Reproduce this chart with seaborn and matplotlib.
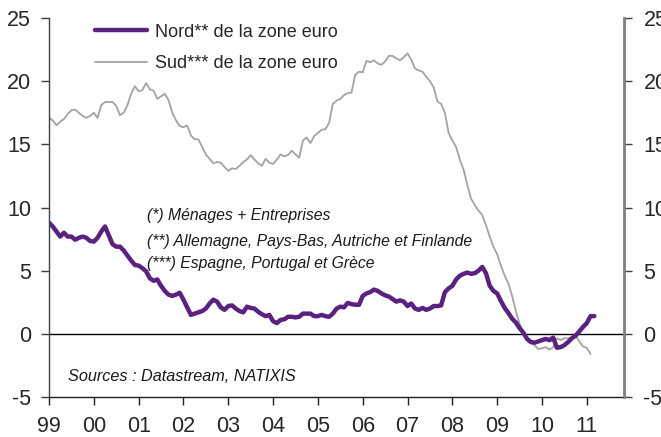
import numpy as np
import pandas as pd
import matplotlib
matplotlib.use("Agg")
import matplotlib.pyplot as plt
import seaborn as sns
from matplotlib.lines import Line2D

# ---- data (monthly, starting Jan 1999) ----
start_year = 1999
nord = [8.8, 8.5, 8.1, 7.7, 8.0, 7.7, 7.7, 7.45, 7.6, 7.7, 7.6, 7.35,
        7.3, 7.6, 8.1, 8.5, 7.8, 7.1, 6.9, 6.9, 6.6, 6.2, 5.8, 5.45,
        5.4, 5.2, 4.95, 4.4, 4.2, 4.3, 3.8, 3.4, 3.1, 3.0, 3.1, 3.25,
        2.7, 2.1, 1.5, 1.6, 1.7, 1.8, 2.0, 2.4, 2.7, 2.55, 2.1, 1.9,
        2.2, 2.25, 2.0, 1.8, 1.7, 2.15, 2.05, 2.0, 1.75, 1.55, 1.4, 1.5,
        1.0, 0.85, 1.1, 1.15, 1.35, 1.35, 1.3, 1.35, 1.6, 1.6, 1.6, 1.4,
        1.4, 1.5, 1.4, 1.35, 1.6, 2.0, 2.15, 2.1, 2.45, 2.35, 2.3, 2.3,
        3.0, 3.2, 3.3, 3.5, 3.4, 3.2, 3.05, 2.95, 2.75, 2.55, 2.65, 2.55,
        2.2, 2.4, 2.0, 1.9, 2.05, 1.9, 2.0, 2.2, 2.2, 2.25, 3.3, 3.6,
        3.8, 4.3, 4.6, 4.75, 4.85, 4.75, 4.8, 5.0, 5.3, 4.8, 3.8, 3.4,
        3.2, 2.6, 2.05, 1.65, 1.2, 0.9, 0.45, 0.1, -0.4, -0.65, -0.7, -0.6,
        -0.5, -0.4, -0.5, -0.3, -1.1, -1.05, -0.9, -0.65, -0.35, -0.15, 0.2, 0.55,
        0.85, 1.4, 1.4]
sud = [17.1, 16.9, 16.5, 16.8, 17.0, 17.4, 17.7, 17.75, 17.5, 17.25, 17.1, 17.25,
       17.5, 17.1, 18.1, 18.35, 18.35, 18.35, 18.05, 17.3, 17.5, 18.1, 19.0, 19.6,
       19.2, 19.3, 19.85, 19.35, 19.25, 18.6, 18.8, 19.0, 18.5, 17.5, 16.9, 16.45,
       16.35, 16.5, 15.7, 15.4, 15.4, 14.8, 14.2, 13.85, 13.5, 13.6, 13.55, 13.2,
       12.9, 13.1, 13.05, 13.3, 13.6, 13.8, 14.15, 13.8, 13.5, 13.3, 13.85, 13.55,
       13.45, 13.8, 14.2, 14.05, 14.15, 14.5, 14.2, 13.95, 15.3, 15.55, 15.1, 15.65,
       15.9, 16.15, 16.2, 16.7, 18.2, 18.45, 18.6, 18.9, 19.05, 19.1, 20.5, 20.75,
       20.7, 21.6, 21.5, 21.65, 21.4, 21.3, 21.55, 22.0, 22.0, 21.8, 21.65, 21.9,
       22.2, 21.7, 21.0, 20.85, 20.75, 20.35, 20.0, 19.5, 18.4, 18.2, 17.5, 15.9,
       15.3, 14.8, 13.8, 13.0, 11.8, 10.7, 10.2, 9.75, 9.4, 8.6, 7.7, 6.9,
       6.3, 5.4, 4.6, 4.0, 3.0, 1.8, 0.8, 0.1, -0.3, -0.7, -0.9, -1.2,
       -1.15, -1.05, -1.25, -1.05, -0.35, -0.5, -0.35, -0.35, -0.3, -0.15, -0.6, -1.0,
       -1.1, -1.6]
series_names = ["Nord** de la zone euro", "Sud*** de la zone euro"]
year_labels = ["99", "00", "01", "02", "03", "04", "05", "06", "07", "08", "09", "10", "11"]
y_ticks = [-5, 0, 5, 10, 15, 20, 25]
notes = ["(*) Ménages + Entreprises",
         "(**) Allemagne, Pays-Bas, Autriche et Finlande",
         "(***) Espagne, Portugal et Grèce"]
source = "Sources : Datastream, NATIXIS"

# ---- build long table ----
df = pd.concat([
    pd.DataFrame({"t": start_year + np.arange(len(nord)) / 12.0, "v": nord, "s": series_names[0]}),
    pd.DataFrame({"t": start_year + np.arange(len(sud)) / 12.0, "v": sud, "s": series_names[1]}),
])

sns.set_theme(style="white")
plt.rcParams["font.family"] = ["Liberation Sans", "DejaVu Sans"]

fig = plt.figure(figsize=(6.61, 4.37), dpi=100)
ax = fig.add_axes([49 / 661, 1 - 397 / 437, (624 - 49) / 661, (397 - 18) / 437])

purple = "#5b2180"
grey = "#a3a3a3"
sns.lineplot(data=df, x="t", y="v", hue="s", hue_order=series_names[::-1],
             palette={series_names[0]: purple, series_names[1]: grey},
             size="s", sizes={series_names[0]: 3.2, series_names[1]: 1.3},
             ax=ax, legend=False, estimator=None)

ax.axhline(0, color="black", lw=1.0, zorder=0)

ax.set_xlim(1999, 2011.83)
ax.set_ylim(-5, 25)
ax.set_xticks([start_year + i for i in range(len(year_labels))])
ax.set_xticklabels(year_labels)
ax.set_yticks(y_ticks)
ax.set_yticklabels([str(v) for v in y_ticks])
ax.set_xlabel("")
ax.set_ylabel("")

for s in ["top", "right"]:
    ax.spines[s].set_visible(False)
ax.spines["left"].set_color("#404040")
ax.spines["left"].set_linewidth(1.0)
ax.spines["bottom"].set_color("#202020")
ax.spines["bottom"].set_linewidth(1.0)
ax.tick_params(axis="x", direction="out", length=6, width=1, color="#202020",
               pad=8, labelsize=15.5, bottom=True)
ax.tick_params(axis="y", direction="out", length=6, width=1, color="#404040",
               pad=7, labelsize=15.5, left=True)

ax2 = ax.twinx()
ax2.set_ylim(-5, 25)
ax2.set_yticks(y_ticks)
ax2.set_yticklabels([str(v) for v in y_ticks])
for s in ["top", "left", "bottom"]:
    ax2.spines[s].set_visible(False)
ax2.spines["right"].set_color("#808080")
ax2.spines["right"].set_linewidth(2.0)
ax2.tick_params(axis="y", direction="out", length=6, width=1, color="#404040",
                pad=8, labelsize=15.5, right=True)
ax2.grid(False)
ax.grid(False)

# legend
handles = [Line2D([], [], color=purple, lw=3.2), Line2D([], [], color=grey, lw=1.3)]
leg = ax.legend(handles, series_names, loc="upper left", bbox_to_anchor=(0.08, 0.985),
                frameon=False, fontsize=13, handlelength=2.9, handletextpad=0.4,
                labelspacing=0.8, borderpad=0.0, borderaxespad=0.0)

for txt, yf in zip(notes, [0.4776, 0.409, 0.351]):
    ax.text(0.170, yf, txt, transform=ax.transAxes, fontsize=11.3, style="italic",
            va="center", ha="left", color="#1a1a1a")
ax.text(0.033, 0.053, source, transform=ax.transAxes, fontsize=11.7, style="italic",
        va="center", ha="left", color="#1a1a1a")

fig.savefig("out.png", dpi=100)
